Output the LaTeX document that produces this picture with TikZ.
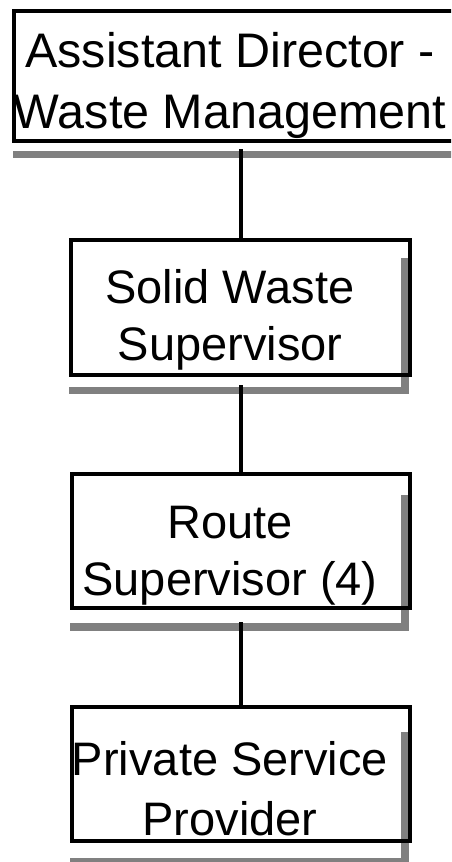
\documentclass[tikz,border=0pt]{standalone}
\usepackage{fontspec}
\setmainfont{Liberation Sans}
\begin{document}
\begin{tikzpicture}[x=1pt,y=-1pt,
  orgbox/.style={draw=black, line width=3.8pt, inner sep=0pt, outer sep=0pt, minimum width=338pt, minimum height=134pt},
  shadowbar/.style={fill=shadowgray, draw=none},
  conn/.style={draw=black, line width=4pt},
  lbl/.style={anchor=base, inner sep=0pt, font=\fontsize{47}{58}\selectfont},
  toplbl/.style={anchor=base, inner sep=0pt, font=\fontsize{48.5}{60}\selectfont}]
\definecolor{shadowgray}{RGB}{128,128,128}
\clip (0,0) rectangle (451,862);
\fill[white] (0,0) rectangle (451,862);
% shadows
\fill[shadowgray] (13,151) rectangle (470,158);
\fill[shadowgray] (401,258) rectangle (409,394);
\fill[shadowgray] (69,387) rectangle (409,394);
\fill[shadowgray] (401,495) rectangle (409,631);
\fill[shadowgray] (70,623) rectangle (409,631);
\fill[shadowgray] (401,732) rectangle (409,870);
\fill[shadowgray] (70,858) rectangle (409,870);
% boxes
\node[orgbox, minimum width=446pt, minimum height=130pt] (b1) at (237,76) {};
\node[orgbox, minimum width=339pt, minimum height=135pt] (b2) at (240.5,307.5) {};
\node[orgbox] (b3) at (241,541) {};
\node[orgbox] (b4) at (241,774) {};
% connectors
\coordinate (s1) at (240.5,149);
\coordinate (s2) at (240.5,385);
\coordinate (s3) at (240.5,622);
\draw[conn] (s1) -- (s1 |- b2.north);
\draw[conn] (s2) -- (s2 |- b3.north);
\draw[conn] (s3) -- (s3 |- b4.north);
% labels
\node[toplbl] (t1a) at (230,67) {Assistant Director -};
\node[toplbl] (t1b) at (230,128) {Waste Management};
\node[lbl] (t2a) at (230,303) {Solid Waste};
\node[lbl] (t2b) at (230,360) {Supervisor};
\node[lbl] (t3a) at (230,538) {Route};
\node[lbl] (t3b) at (230,595) {Supervisor (4)};
\node[lbl] (t4a) at (230,775) {Private Service};
\node[lbl] (t4b) at (230,835) {Provider};
\end{tikzpicture}
\end{document}
